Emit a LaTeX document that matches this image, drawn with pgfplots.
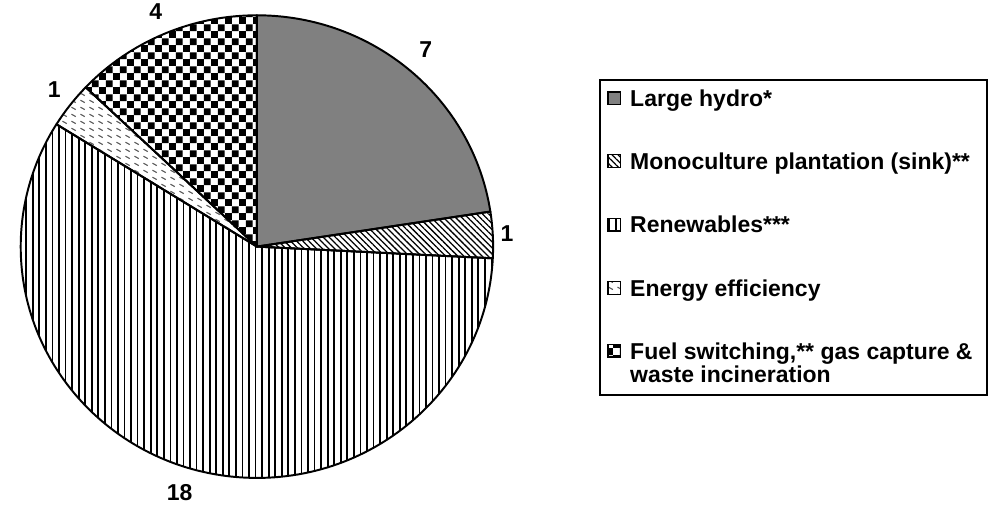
\documentclass[border=0pt]{standalone}
\usepackage{pgfplots}
\pgfplotsset{compat=1.18}
\usepackage{pgfplotstable}
\usetikzlibrary{patterns,patterns.meta}
\usepackage{fontspec}
\setmainfont{Liberation Sans}

\tikzdeclarepattern{name=checker, type=uncolored,
  bounding box={(0,0) and (14.6bp,14.6bp)}, tile size={(14.6bp,14.6bp)},
  code={\fill (0,0) rectangle (7.3bp,7.3bp); \fill (7.3bp,7.3bp) rectangle (14.6bp,14.6bp);}}
\tikzdeclarepattern{name=effdash, type=uncolored,
  bounding box={(0,0) and (9bp,7bp)}, tile size={(9bp,7bp)},
  code={\draw[line width=1.1bp] (1.5bp,5bp) -- (6bp,2.5bp);}}

\pgfplotstableread{
value labr
7  265
1  256
18 264
1  262
4  262
}\piedata

\tikzset{
  s0/.style={fill=black!50},
  s1/.style={pattern={Lines[angle=-45,distance=4.4bp,line width=1.3bp]}},
  s2/.style={pattern={Lines[angle=90,distance=6.7bp,line width=1.8bp]}},
  s3/.style={pattern=effdash, pattern color=black!65},
  s4/.style={pattern=checker},
}

\gdef\cx{253.5}\gdef\cy{271.5}\gdef\rx{241.5}\gdef\ry{236.5}

\newcommand\piewedge[1]{%
  \filldraw[draw=black,line width=2bp,line join=round,s#1]
    (axis cs:\cx,\cy) -- (axis cs:{\cx+\rx*cos(\csname a#1\endcsname)},{\cy+\ry*sin(\csname a#1\endcsname)})
    arc[start angle=\csname a#1\endcsname, end angle=\csname b#1\endcsname, x radius=\rx bp, y radius=\ry bp] -- cycle;}
\newcommand\pielabel[1]{%
  \node[font=\fontsize{23.5bp}{28bp}\selectfont\bfseries] at
    (axis cs:{\cx+\csname r#1\endcsname*cos((\csname a#1\endcsname+\csname b#1\endcsname)/2)},
             {\cy+\csname r#1\endcsname*sin((\csname a#1\endcsname+\csname b#1\endcsname)/2)})
    {\csname v#1\endcsname};}
% legend entry: index, image-y centre, text
\newcommand\legentry[3]{%
  \filldraw[draw=black,line width=1.3bp,s#1] (axis cs:612.5,{533-#2-6.5}) rectangle (axis cs:625.5,{533-#2+6.5});
  \node[anchor=base west,inner sep=0pt,font=\fontsize{23.5bp}{28bp}\selectfont\bfseries]
    at (axis cs:635,{533-#2-8.5}) {#3};}

\begin{document}
\pgfplotstablegetrowsof{\piedata}\pgfmathtruncatemacro\nrows{\pgfplotsretval-1}
\gdef\total{0}
\foreach \i in {0,...,\nrows}{\pgfplotstablegetelem{\i}{value}\of\piedata
  \pgfmathsetmacro\tmp{\total+\pgfplotsretval}\xdef\total{\tmp}}
\gdef\cur{90}
\foreach \i in {0,...,\nrows}{%
  \pgfplotstablegetelem{\i}{value}\of\piedata
  \expandafter\xdef\csname v\i\endcsname{\pgfplotsretval}%
  \pgfmathsetmacro\nxt{\cur-\pgfplotsretval/\total*360}%
  \expandafter\xdef\csname a\i\endcsname{\cur}%
  \expandafter\xdef\csname b\i\endcsname{\nxt}%
  \pgfplotstablegetelem{\i}{labr}\of\piedata
  \expandafter\xdef\csname r\i\endcsname{\pgfplotsretval}%
  \xdef\cur{\nxt}}
\begin{tikzpicture}
\begin{axis}[at={(0,0)},anchor=south west,x=1bp,y=1bp,
  xmin=0,xmax=988,ymin=0,ymax=533,scale only axis,hide axis,clip=false]
\piewedge{0}\piewedge{1}\piewedge{2}\piewedge{3}\piewedge{4}
\pielabel{0}\pielabel{1}\pielabel{2}\pielabel{3}\pielabel{4}
\draw[line width=2bp] (axis cs:604,{533-413}) rectangle (axis cs:1000,{533-91});
\legentry{0}{110}{Large hydro*}
\legentry{1}{174}{Monoculture plantation (sink)**}
\legentry{2}{239}{Renewables***}
\legentry{3}{304}{Energy efficiency}
\legentry{4}{368}{Fuel switching,** gas capture \&}
\node[anchor=base west,inner sep=0pt,font=\fontsize{23.5bp}{28bp}\selectfont\bfseries]
    at (axis cs:635,{533-392-8.5}) {waste incineration};
\end{axis}
\end{tikzpicture}
\end{document}
